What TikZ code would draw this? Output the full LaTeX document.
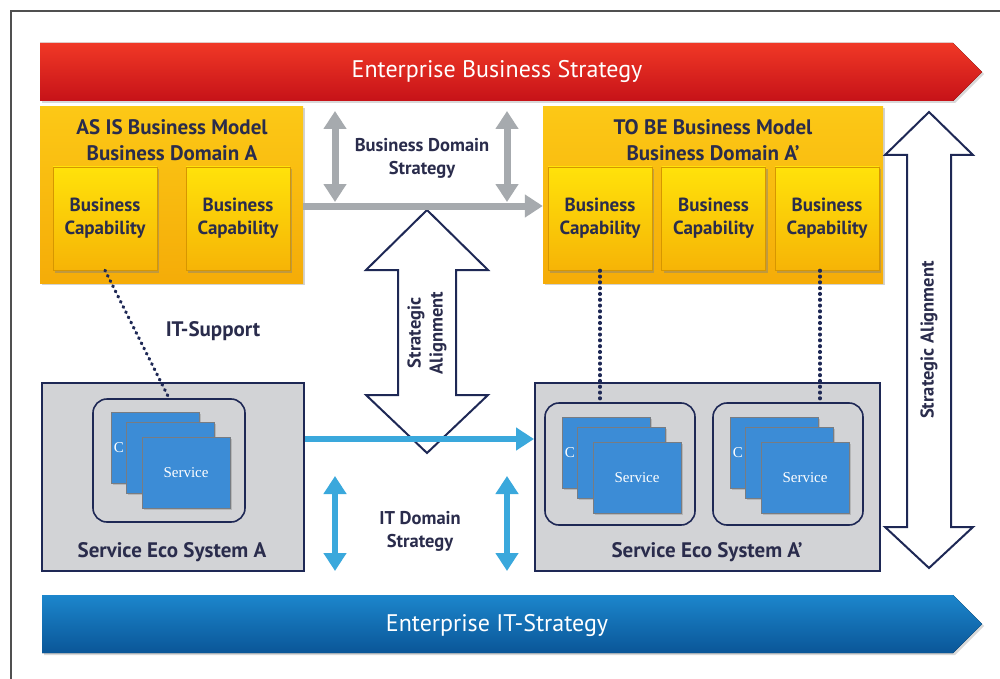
\documentclass[tikz,border=0pt]{standalone}
\usepackage{fontspec}
\setmainfont{PT Sans}
\newfontfamily\svcfont{Liberation Serif}
\usetikzlibrary{arrows.meta,shadows,calc}
\definecolor{navy}{RGB}{30,40,85}
\definecolor{txt}{RGB}{42,44,76}
\definecolor{redtop}{RGB}{240,56,38}
\definecolor{redbot}{RGB}{198,18,24}
\definecolor{bluetop}{RGB}{28,134,204}
\definecolor{bluebot}{RGB}{10,86,152}
\definecolor{ytop}{RGB}{252,200,22}
\definecolor{ybot}{RGB}{245,172,8}
\definecolor{ctop}{RGB}{255,226,10}
\definecolor{cbot}{RGB}{246,180,6}
\definecolor{cedge}{RGB}{214,150,0}
\definecolor{garrow}{RGB}{166,170,174}
\definecolor{larrow}{RGB}{58,168,220}
\definecolor{svc}{RGB}{60,140,214}
\definecolor{svcedge}{RGB}{120,124,130}
\definecolor{eco}{RGB}{210,211,214}
\definecolor{framecol}{RGB}{80,80,80}
\newcommand\svcstack[3]{%
  \node[svcbox] (#1a) at (#2+44,#3+35.5) {};
  \node[svctext, anchor=west] (#1t) at ($(#1a.west)+(3,0)$) {C};
  \node[svcbox] (#1b) at (#2+59,#3+45.5) {};
  \node[svcbox] (#1c) at (#2+75,#3+61) {Service};
}
\begin{document}
\begin{tikzpicture}[x=1pt,y=-1pt,
  outerbox/.style={top color=ytop, bottom color=ybot, inner sep=0pt,
    drop shadow={shadow xshift=1.5pt, shadow yshift=-1.5pt, opacity=0.35}},
  capbox/.style={top color=ctop, bottom color=cbot, draw=cedge, line width=0.6pt,
    minimum width=104pt, minimum height=103pt, inner sep=0pt, align=center,
    text=txt, font=\bfseries\fontsize{19}{23}\selectfont,
    drop shadow={shadow xshift=2pt, shadow yshift=-2.5pt, opacity=0.45}},
  titletext/.style={text=txt, align=center, font=\bfseries\fontsize{21}{26}\selectfont},
  labeltext/.style={text=txt, align=center, font=\bfseries\fontsize{18.5}{23}\selectfont},
  ecobox/.style={fill=eco, draw=navy, line width=2pt, inner sep=0pt},
  innerbox/.style={fill=eco, draw=navy, line width=1.6pt, rounded corners=14pt, inner sep=0pt},
  svcbox/.style={fill=svc, draw=svcedge, line width=0.8pt, minimum width=88pt,
    minimum height=71pt, inner sep=0pt, text=white, font=\svcfont\fontsize{15}{17}\selectfont,
    drop shadow={shadow xshift=1.5pt, shadow yshift=-1.5pt, opacity=0.35}},
  svctext/.style={text=white, inner sep=0pt, font=\svcfont\fontsize{15}{17}\selectfont},
  salign/.style={fill=white, draw=navy, line width=2pt, line join=miter},
  grayarr/.style={draw=garrow, line width=7pt},
  bluearr/.style={draw=larrow, line width=6.5pt},
  gtip/.style={-{Triangle[length=18pt,width=22pt]}},
  gtips/.style={{Triangle[length=18pt,width=22pt]}-{Triangle[length=18pt,width=22pt]}},
  dotline/.style={draw=navy, line width=3.2pt, line cap=round, dash pattern=on 0.9pt off 4.9pt},
  bantext/.style={text=white, font=\fontsize{24}{28}\selectfont},
  rottext/.style={text=txt, align=center, rotate=90, font=\bfseries\fontsize{18.5}{22}\selectfont}
]
\useasboundingbox (0,0) rectangle (1000,679);
\fill[white] (0,0) rectangle (1000,679);
% frame
\draw[framecol, line width=1.3pt] (11,679) -- (11,11) -- (1000,11);

% banners
\fill[top color=redtop, bottom color=redbot,
  drop shadow={shadow xshift=2pt, shadow yshift=-2pt, opacity=0.3}]
  (40,43) -- (953,43) -- (982,72) -- (953,101) -- (40,101) -- cycle;
\node[bantext] (ebs) at (497,72) {Enterprise Business Strategy};
\fill[top color=bluetop, bottom color=bluebot,
  drop shadow={shadow xshift=2pt, shadow yshift=-2pt, opacity=0.3}]
  (42,595) -- (953,595) -- (982,624) -- (953,653) -- (42,653) -- cycle;
\node[bantext] (eits) at (497,625) {Enterprise IT-Strategy};

% yellow business model boxes
\node[outerbox, minimum width=263pt, minimum height=176pt] (yA) at (171.5,195) {};
\node[titletext] (tA) at (172,140) {AS IS Business Model\\Business Domain A};
\node[capbox] (cA1) at (105,218.5) {Business\\Capability};
\node[capbox] (cA2) at (238,218.5) {Business\\Capability};

\node[outerbox, minimum width=340pt, minimum height=176pt] (yB) at (713,195) {};
\node[titletext] (tB) at (713,140) {TO BE Business Model\\Business Domain A'};
\node[capbox] (cB1) at (600,218.5) {Business\\Capability};
\node[capbox] (cB2) at (713.5,218.5) {Business\\Capability};
\node[capbox] (cB3) at (827,218.5) {Business\\Capability};

% service eco systems
\node[ecobox, minimum width=262pt, minimum height=188pt] (ecoA) at (173,477) {};
\node[innerbox, minimum width=152pt, minimum height=123pt] (inA) at (169,460.5) {};
\svcstack{sA}{111}{412}
\node[titletext] (lA) at (172,552) {Service Eco System A};

\node[ecobox, minimum width=345pt, minimum height=188pt] (ecoB) at (707.5,477) {};
\node[innerbox, minimum width=150pt, minimum height=122pt] (inB1) at (620,464) {};
\node[innerbox, minimum width=150pt, minimum height=122pt] (inB2) at (788,464) {};
\svcstack{sB}{562}{417}
\svcstack{sC}{730}{417}
\node[titletext] (lB) at (707,552) {Service Eco System A'};

% strategic alignment arrows
\draw[salign] (427,210) -- (488,270) -- (456,270) -- (456,395) -- (488,395) -- (427,453)
  -- (366,395) -- (398,395) -- (398,270) -- (366,270) -- cycle;
\node[rottext] (sa1) at (427,333) {Strategic\\Alignment};
\draw[salign] (929,112) -- (973,155) -- (951,155) -- (951,527) -- (973,527) -- (929,568)
  -- (885,527) -- (907,527) -- (907,155) -- (885,155) -- cycle;
\node[rottext] (sa2) at (929,340) {Strategic Alignment};

% business domain strategy arrows
\coordinate (gy) at (0,206);
\draw[grayarr, gtip] (yA.east |- gy) -- (yB.west |- gy);
\coordinate (g1t) at (335,111);
\coordinate (g1b) at (335,202);
\coordinate (g2t) at (507,111);
\coordinate (g2b) at (507,202);
\draw[grayarr, gtips] (g1t) -- (g1b);
\draw[grayarr, gtips] (g2t) -- (g2b);
\node[labeltext] (bds) at (422,158) {Business Domain\\Strategy};

% IT domain strategy arrows
\coordinate (by) at (0,439);
\draw[bluearr, gtip] (ecoA.east |- by) -- (ecoB.west |- by);
\coordinate (b1t) at (335,476);
\coordinate (b1b) at (335,571);
\coordinate (b2t) at (507,476);
\coordinate (b2b) at (507,571);
\draw[bluearr, gtips] (b1t) -- (b1b);
\draw[bluearr, gtips] (b2t) -- (b2b);
\node[labeltext] (itds) at (420,531) {IT Domain\\Strategy};

% IT support dotted links
\draw[dotline] (cA1.south) -- (inA.north);
\draw[dotline] (cB1.south) -- (cB1.south |- inB1.north);
\coordinate (d3) at ($(cB3.south)+(-7,0)$);
\draw[dotline] (d3) -- (d3 |- inB2.north);
\node[labeltext, font=\bfseries\fontsize{21}{25}\selectfont] (its) at (213,331) {IT-Support};
\end{tikzpicture}
\end{document}
